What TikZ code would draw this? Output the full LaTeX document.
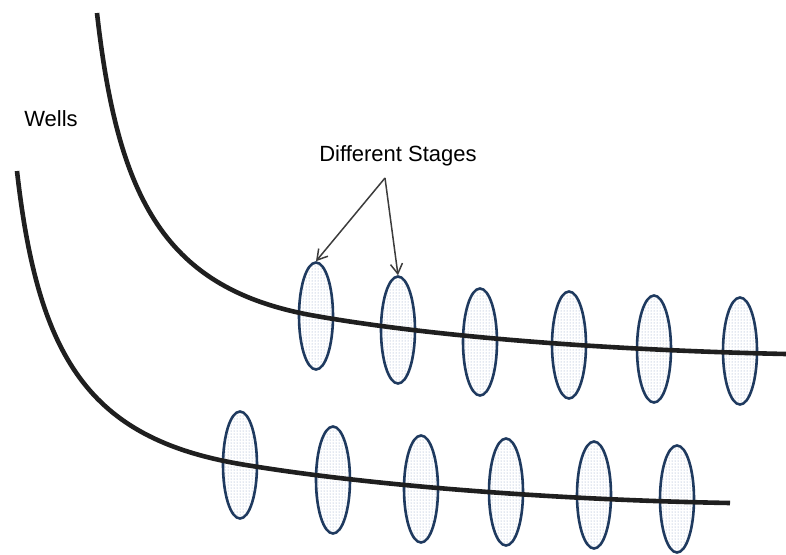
\documentclass[tikz,border=0pt]{standalone}
\usepackage{fontspec}
\setmainfont{Liberation Sans}
\usetikzlibrary{shapes.geometric,arrows.meta,patterns,positioning}
\usepackage{xcolor}
\definecolor{stageedge}{RGB}{31,58,95}
\definecolor{stagedots}{RGB}{135,155,190}
\definecolor{pointergray}{RGB}{60,60,60}
\tikzset{
  stage/.style={ellipse, draw=stageedge, line width=2.6pt, pattern=dots,
                pattern color=stagedots, minimum width=34pt,
                minimum height=107pt, inner sep=0pt},
  well/.style={line width=4.6pt, black!88, line cap=butt},
  pointer/.style={draw=pointergray, line width=1.5pt,
                  -{Straight Barb[length=10pt,width=12pt]}},
  label/.style={font=\fontsize{22}{26}\selectfont, inner sep=0pt}
}

\begin{document}
\begin{tikzpicture}[x=1pt, y=-1pt]
\useasboundingbox (0,0) rectangle (786,554);

% stages along the upper well
\foreach \name/\x/\y in {u1/316/316, u2/398/330, u3/480/342,
                         u4/569/345, u5/654/349, u6/740/351}
  \node[stage] (\name) at (\x,\y) {};

% stages along the lower well
\foreach \name/\x/\y in {l1/240/465, l2/333/480, l3/421/489,
                         l4/506/492, l5/594/495, l6/677/499}
  \node[stage] (\name) at (\x,\y) {};

% the two wells
\draw[well] (97,13) .. controls (118,200) and (165,290) .. (316,316)
                    .. controls (430,336) and (600,350) .. (786,354);
\draw[well] (17,171) .. controls (38,358) and (89,438) .. (240,464)
                     .. controls (370,486) and (560,500) .. (730,503);

\node[label] (wells) at (51,119) {Wells};
\node[label] (stages) at (398,156) {Different Stages};
\coordinate (fork) at (385,178);

\draw[pointer] (fork) -- (u1.north);
\draw[pointer] (fork) -- (u2.north);

\end{tikzpicture}
\end{document}
